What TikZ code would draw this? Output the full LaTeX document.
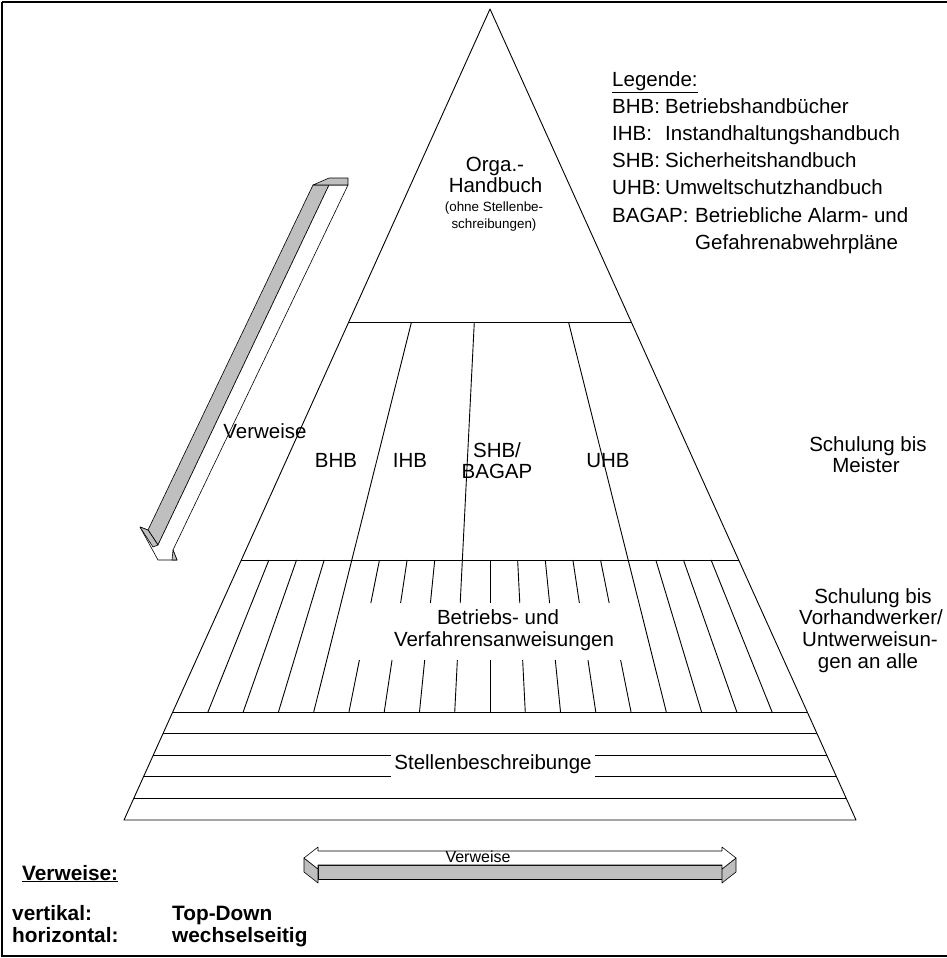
\documentclass[tikz,border=0pt]{standalone}
\usepackage{fontspec}
\setmainfont{Liberation Sans}
\usetikzlibrary{calc}
\begin{document}
\begin{tikzpicture}[x=1pt,y=-1pt,
  edge/.style={line width=0.9pt, black},
  lbl/.style={font=\fontsize{20.5}{21}\selectfont, inner sep=0pt},
  smalllbl/.style={font=\fontsize{13.4}{16}\selectfont, inner sep=0pt},
  boldlbl/.style={font=\bfseries\fontsize{20.8}{22}\selectfont, inner sep=0pt},
  sideface/.style={fill=black!25, draw=black, line width=0.6pt, line join=round},
  frontface/.style={fill=white, draw=black, line width=0.6pt, line join=round}]
\useasboundingbox (0,0) rectangle (946,958);
% outer frame
\draw[line width=2.5pt] (2,2) -- (990,2) (2,2) -- (2,956) -- (990,956);

% pyramid outline
\coordinate (apex) at (490,9);
\coordinate (bl) at (124,820);
\coordinate (br) at (856,820);
\draw[edge, line join=round] (apex) -- (bl) -- (br) -- cycle;

% horizontal section lines
\foreach \yy in {322,560,712,733.6,755.2,776.8,798.4} {
  \pgfmathsetmacro\tt{(\yy-9)/811}
  \draw[edge] ($(apex)!\tt!(bl)$) -- ($(apex)!\tt!(br)$);
}

% dividers of the manual section (rays from the apex)
\foreach \k in {4,8,14} {
  \draw[edge] ({490+(\k-9)*0.050151*313},322) -- ({490+(\k-9)*0.050151*551},560);
}
% hatching of the instruction section
\foreach \k in {1,2,3,4,14,15,16,17} {
  \draw[edge] ({490+(\k-9)*0.050151*551},560) -- ({490+(\k-9)*0.050151*703},712);
}
\foreach \k in {5,...,13} {
  \draw[edge] ({490+(\k-9)*0.050151*551},560) -- ({490+(\k-9)*0.050151*594},603);
  \draw[edge] ({490+(\k-9)*0.050151*651},660) -- ({490+(\k-9)*0.050151*703},712);
}

% texts inside the pyramid
\node[lbl, anchor=base] (orga) at (495,171.7) {Orga.-};
\node[lbl, anchor=base] (hb) at (495.5,192.3) {Handbuch};
\node[smalllbl, anchor=base] (ohne) at (494,211.7) {(ohne Stellenbe-};
\node[smalllbl, anchor=base] (schr) at (494,228) {schreibungen)};

\node[lbl, anchor=base] (bhb) at (336,467) {BHB};
\node[lbl, anchor=base] (ihb) at (410,467) {IHB};
\node[lbl, anchor=base] (shb) at (497,457) {SHB/};
\node[lbl, anchor=base] (bagap) at (497,478) {BAGAP};
\node[lbl, anchor=base] (uhb) at (608,467) {UHB};

\node[lbl, anchor=base] (bva) at (498,624) {Betriebs- und};
\node[lbl, anchor=base] (bvb) at (504,646.7) {Verfahrensanweisungen};

\node[lbl, anchor=base, fill=white, text height=16pt, text depth=9pt, inner xsep=3pt]
  (stelle) at (493,769) {Stellenbeschreibunge};

% legend
\node[lbl, anchor=base west] (leg) at (612,86.5) {\underline{Legende:}};
\node[lbl, anchor=base west] (l1a) at (612,113.6) {BHB:};
\node[lbl, anchor=base west] (l1b) at (665,113.6) {Betriebshandbücher};
\node[lbl, anchor=base west] (l2a) at (612,140.7) {IHB:};
\node[lbl, anchor=base west] (l2b) at (665,140.7) {Instandhaltungshandbuch};
\node[lbl, anchor=base west] (l3a) at (612,167.8) {SHB:};
\node[lbl, anchor=base west] (l3b) at (665,167.8) {Sicherheitshandbuch};
\node[lbl, anchor=base west] (l4a) at (612,194.9) {UHB:};
\node[lbl, anchor=base west] (l4b) at (665,194.9) {Umweltschutzhandbuch};
\node[lbl, anchor=base west] (l5a) at (612,222) {BAGAP:};
\node[lbl, anchor=base west] (l5b) at (695,222) {Betriebliche Alarm- und};
\node[lbl, anchor=base west] (l6b) at (695,249.1) {Gefahrenabwehrpläne};

% training levels on the right
\node[lbl, anchor=base] (s1a) at (868,451) {Schulung bis};
\node[lbl, anchor=base] (s1b) at (866,472.7) {Meister};
\node[lbl, anchor=base] (s2a) at (873,603) {Schulung bis};
\node[lbl, anchor=base] (s2b) at (871,624.7) {Vorhandwerker/};
\node[lbl, anchor=base] (s2c) at (870,646.4) {Untwerweisun-};
\node[lbl, anchor=base] (s2d) at (868,668.1) {gen an alle};

% diagonal 3D arrow (top-down references): grey side face, white top face
\draw[sideface] (313,185) -- (329,185) -- (158,545) -- (148,530) -- cycle;
\draw[frontface] (329,185) -- (348,185) -- (173,550) -- (177,560) -- (158,560)
  -- (140,527) -- (148,530) -- (158,545) -- cycle;
\draw[sideface] (140,527) -- (148,530) -- (158,545) -- (153,547) -- cycle;
\draw[sideface] (173,550) -- (177,560) -- (172,560) -- cycle;
\draw[sideface] (313,185) -- (329,178) -- (348,178) -- (348,185) -- (329,185) -- cycle;
\node[lbl, anchor=base] (vv) at (265,438) {Verweise};

% horizontal 3D double arrow (mutual references): white top face, grey front faces
\draw[sideface] (318,865) -- (722,865) -- (722,879) -- (318,879) -- cycle;
\draw[sideface] (304,858) -- (318,869) -- (318,883) -- (304,872) -- cycle;
\draw[sideface] (736,858) -- (722,869) -- (722,883) -- (736,872) -- cycle;
\draw[frontface] (304,858) -- (318,847) -- (318,851) -- (722,851) -- (722,847)
  -- (736,858) -- (722,869) -- (722,865) -- (318,865) -- (318,869) -- cycle;
\node[font=\fontsize{16}{18}\selectfont, inner sep=0pt] (hv) at (478,857) {Verweise};

% key for the references
\node[boldlbl, anchor=base west] (vk) at (22,880) {\underline{Verweise:}};
\node[boldlbl, anchor=base west] (vk1) at (12,920) {vertikal:};
\node[boldlbl, anchor=base west] (vk1b) at (172,920) {Top-Down};
\node[boldlbl, anchor=base west] (vk2) at (12,942) {horizontal:};
\node[boldlbl, anchor=base west] (vk2b) at (172,942) {wechselseitig};
\end{tikzpicture}
\end{document}
